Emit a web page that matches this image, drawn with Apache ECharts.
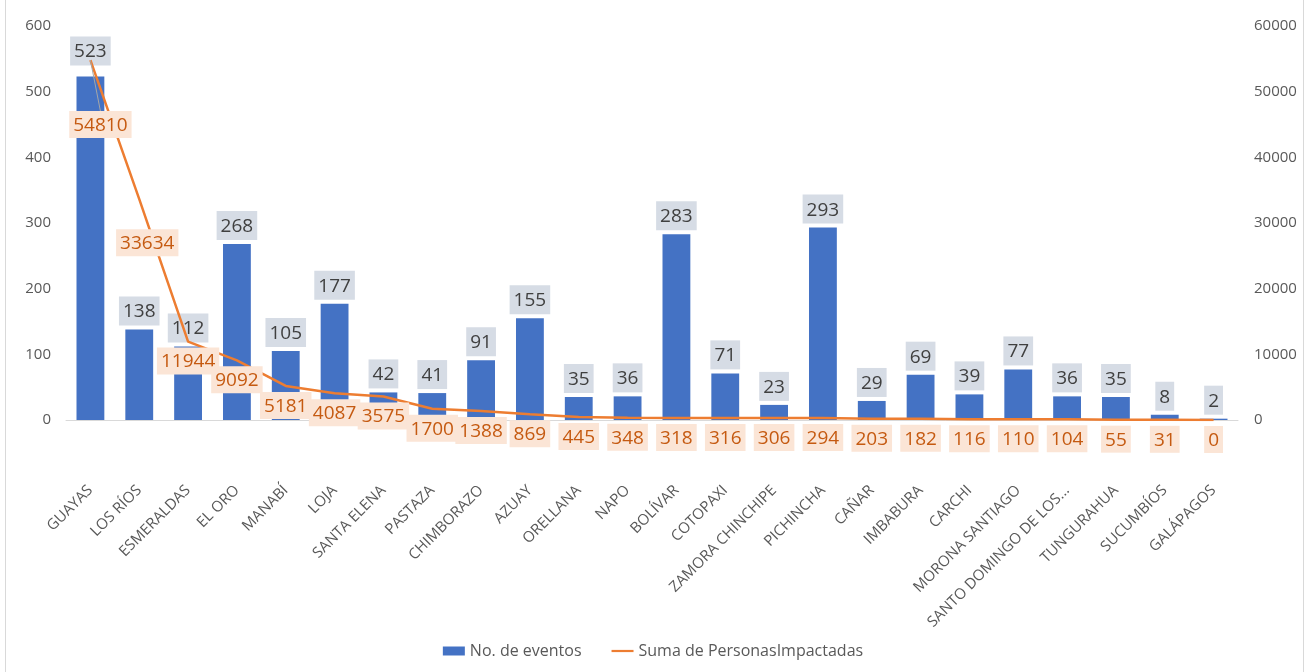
<!DOCTYPE html>
<html>
<head>
<meta charset="utf-8">
<script src="https://cdn.jsdelivr.net/npm/echarts@6/dist/echarts.min.js"></script>
<style>
html,body{margin:0;padding:0;background:#fff;}
#c{width:1306px;height:672px;}
</style>
</head>
<body>
<div id="c"></div>
<script>
const categories = ["GUAYAS","LOS RÍOS","ESMERALDAS","EL ORO","MANABÍ","LOJA","SANTA ELENA","PASTAZA","CHIMBORAZO","AZUAY","ORELLANA","NAPO","BOLÍVAR","COTOPAXI","ZAMORA CHINCHIPE","PICHINCHA","CAÑAR","IMBABURA","CARCHI","MORONA SANTIAGO","SANTO DOMINGO DE LOS...","TUNGURAHUA","SUCUMBÍOS","GALÁPAGOS"];
const eventos = [523,138,112,268,105,177,42,41,91,155,35,36,283,71,23,293,29,69,39,77,36,35,8,2];
const personas = [54810,33634,11944,9092,5181,4087,3575,1700,1388,869,445,348,318,316,306,294,203,182,116,110,104,55,31,0];
const leftTicks = [0,100,200,300,400,500,600];
const rightTicks = [0,10000,20000,30000,40000,50000,60000];

const font = "'Open Sans', 'Liberation Sans', sans-serif";
// manually moved labels (label index -> [dx, dy])
const lineLabelMove = {0: [10, 45], 1: [8, 24]};
const barLabelMove = {0: [0, -7]};

const lineData = personas.map((v, i) => {
  const o = {value: v};
  if (i === 0) o.labelLine = {show: true};
  return o;
});

const chart = echarts.init(document.getElementById('c'));
chart.setOption({
  animation: false,
  backgroundColor: '#fff',
  graphic: [
    {type: 'line', shape: {x1: 5.5, y1: 0, x2: 5.5, y2: 672}, style: {stroke: '#d9d9d9', lineWidth: 1}},
    {type: 'line', shape: {x1: 1303.5, y1: 0, x2: 1303.5, y2: 672}, style: {stroke: '#d9d9d9', lineWidth: 1}}
  ],
  grid: {left: 66, right: 68, top: 26, bottom: 252, containLabel: false},
  legend: {
    bottom: 8,
    left: 'center',
    itemGap: 30,
    itemWidth: 22,
    itemHeight: 9,
    textStyle: {color: '#595959', fontSize: 16, fontFamily: font},
    data: [
      {name: 'No. de eventos', icon: 'rect'},
      {name: 'Suma de PersonasImpactadas', icon: 'path://M0,0 L24,0 L24,2.4 L0,2.4 Z'}
    ]
  },
  xAxis: {
    type: 'category',
    data: categories,
    axisTick: {show: false},
    axisLine: {lineStyle: {color: '#d9d9d9'}},
    axisLabel: {rotate: 45, color: '#595959', fontSize: 15, fontFamily: font, interval: 0, margin: 68}
  },
  yAxis: [
    {
      type: 'value', min: leftTicks[0], max: leftTicks[leftTicks.length - 1], interval: leftTicks[1] - leftTicks[0],
      splitLine: {show: false},
      axisLine: {show: false}, axisTick: {show: false},
      axisLabel: {color: '#595959', fontSize: 15, fontFamily: font, margin: 15}
    },
    {
      type: 'value', min: rightTicks[0], max: rightTicks[rightTicks.length - 1], interval: rightTicks[1] - rightTicks[0],
      splitLine: {show: false},
      axisLine: {show: false}, axisTick: {show: false},
      axisLabel: {color: '#595959', fontSize: 15, fontFamily: font, margin: 16, formatter: v => String(v)}
    }
  ],
  series: [
    {
      name: 'No. de eventos',
      type: 'bar',
      data: eventos,
      barWidth: '57%',
      itemStyle: {color: '#4472c4'},
      z: 2,
      labelLayout: function (p) {
        const m = barLabelMove[p.dataIndex];
        if (m) return {dx: m[0], dy: m[1]};
        return {};
      },
      label: {
        show: true, position: 'top', distance: 4,
        color: '#404040', fontSize: 19, fontFamily: font,
        backgroundColor: '#d6dce5', padding: [6, 4, 4, 4]
      }
    },
    {
      name: 'Suma de PersonasImpactadas',
      type: 'line',
      yAxisIndex: 1,
      data: lineData,
      symbol: 'circle',
      symbolSize: 0.01,
      showSymbol: true,
      lineStyle: {color: '#ed7d31', width: 2.5},
      itemStyle: {color: '#ed7d31'},
      z: 3,
      labelLine: {show: false, lineStyle: {color: '#a6a6a6', width: 1}},
      labelLayout: function (p) {
        const m = lineLabelMove[p.dataIndex];
        if (m) return {dx: m[0], dy: m[1]};
        return {};
      },
      label: {
        show: true, position: 'bottom', distance: 6,
        color: '#c55a11', fontSize: 19, fontFamily: font,
        backgroundColor: '#fbe5d6', padding: [5, 4, 3, 4]
      }
    }
  ]
});
</script>
</body>
</html>
